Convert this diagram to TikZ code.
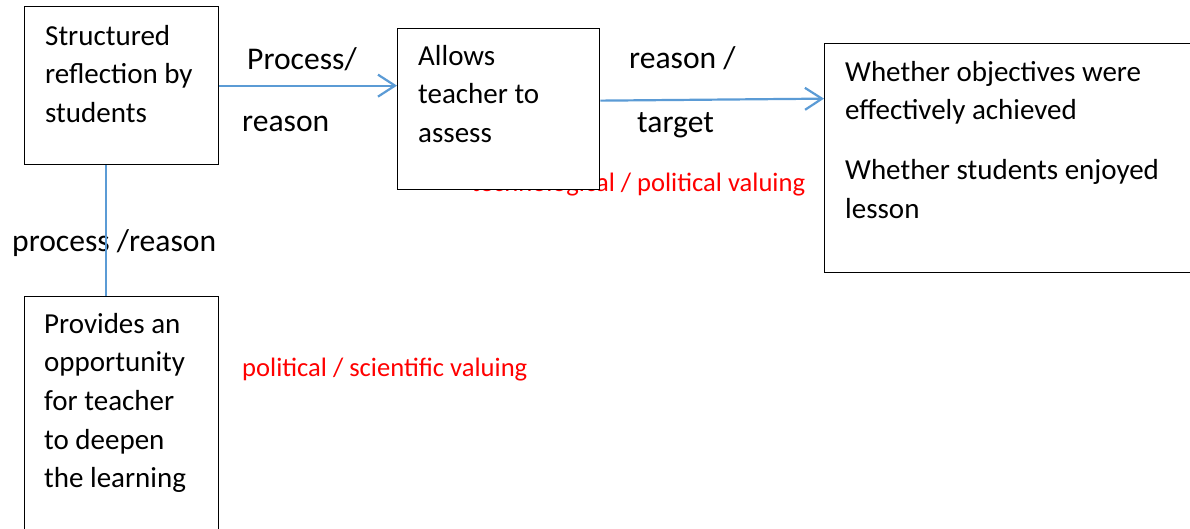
\documentclass[tikz,border=0pt]{standalone}
\usepackage{fontspec}
\setmainfont{Carlito}
\usetikzlibrary{arrows.meta}
\definecolor{lineblue}{RGB}{91,155,213}
\definecolor{valred}{RGB}{255,0,0}
\begin{document}
\begin{tikzpicture}[x=1bp,y=-1bp,
  box/.style={draw=black, line width=1.3bp, fill=white, rectangle, inner sep=0pt, anchor=north west},
  txt/.style={font=\fontsize{29bp}{38.6bp}\selectfont, align=left, inner sep=0pt, anchor=north west},
  lbl/.style={font=\fontsize{31.6bp}{38.6bp}\selectfont, inner sep=0pt, anchor=base west},
  redlbl/.style={font=\fontsize{26.6bp}{32bp}\selectfont, text=valred, inner sep=0pt, anchor=base west},
  conn/.style={draw=lineblue, line width=2.2bp},
  arr/.style={conn, -{Straight Barb[length=17bp,width=22bp]}}]
\useasboundingbox (0,0) rectangle (1190,529);
% red valuing labels (behind boxes)
\node[redlbl] (r1) at (471,192) {technological / political valuing};
\node[redlbl] (r2) at (242,377) {political / scientific valuing};
% connector labels
\node[lbl] (l1) at (247,70) {Process/};
\node[lbl] (l2) at (242,132) {reason};
\node[lbl] (l3) at (629,69) {reason /};
\node[lbl] (l4) at (637,133) {target};
\node[lbl] (l5) at (12,252) {process /reason};
% boxes
\node[box, minimum width=194bp, minimum height=158bp] (A) at (24,6) {};
\node[box, minimum width=202bp, minimum height=161bp] (B) at (397,28) {};
\node[box, minimum width=372bp, minimum height=229bp] (C) at (824,43) {};
\node[box, minimum width=194bp, minimum height=240bp] (D) at (24,296) {};
% box texts
\node[txt] (At) at (45,18) {\strut Structured\\reflection by\\students};
\node[txt] (Bt) at (418,38) {\strut Allows\\teacher to\\assess};
\node[txt] (Ct) at (845,54) {\strut Whether objectives were\\effectively achieved\\[21.5bp]Whether students enjoyed\\lesson};
\node[txt] (Dt) at (44,306) {\strut Provides an\\opportunity\\for teacher\\to deepen\\the learning};
% connectors
\draw[arr] (A.east) -- (A.east -| B.west);
\draw[arr] ([yshift=8.5bp]B.east) -- ([yshift=59.5bp]C.west);
\draw[conn] ([xshift=-16bp]A.south) -- ([xshift=-16bp]A.south |- D.north);
\end{tikzpicture}
\end{document}
